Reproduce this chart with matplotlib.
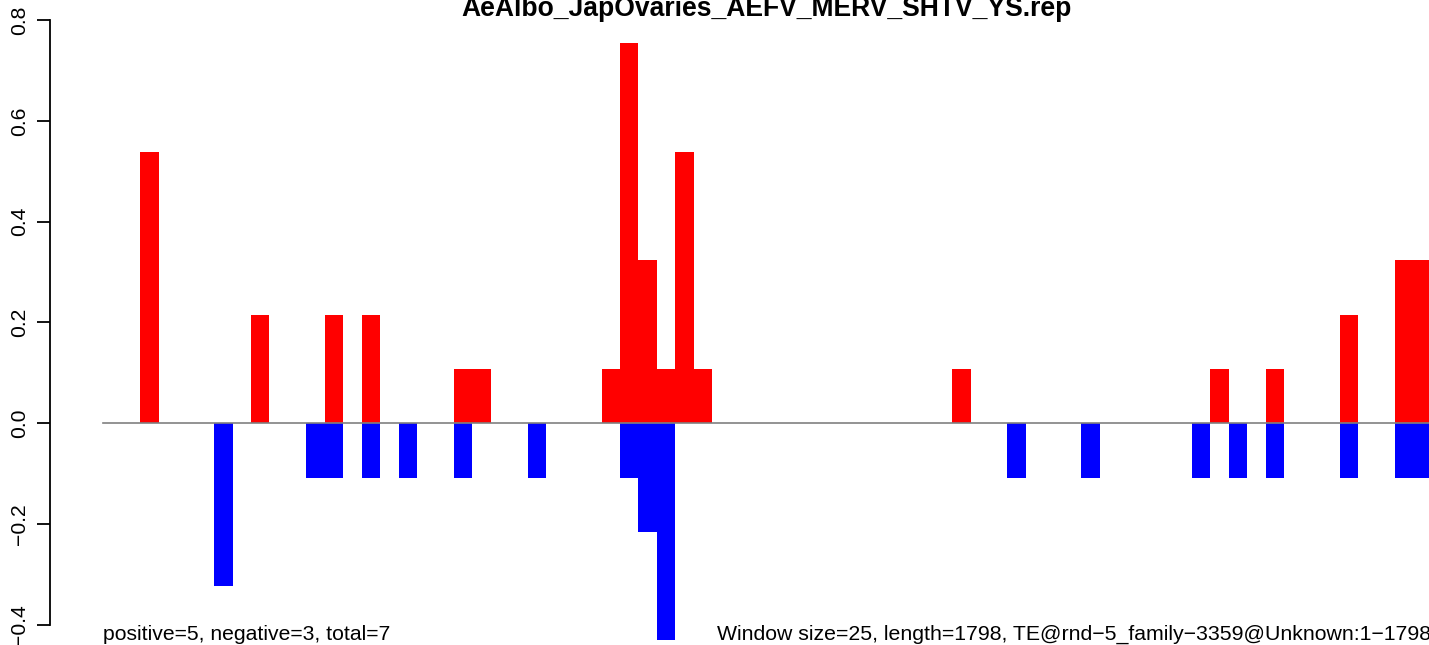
import matplotlib.pyplot as plt

plt.rcParams['font.family'] = ['Liberation Sans', 'DejaVu Sans']

# ventanas de 25 pb sobre un TE de 1798 pb
window = 25
length = 1798
unit = 0.1077

pos_idx = [2, 8, 12, 14, 19, 20, 27, 28, 29, 30, 31, 32, 46, 60, 63, 67, 70, 71]
pos_val = [5, 2, 2, 2, 1, 1, 1, 7, 3, 1, 5, 1, 1, 1, 1, 2, 3, 3]
neg_idx = [6, 11, 12, 14, 16, 19, 23, 28, 29, 30, 49, 53, 59, 61, 63, 67, 70, 71]
neg_val = [3, 1, 1, 1, 1, 1, 1, 1, 2, 4, 1, 1, 1, 1, 1, 1, 1, 1]

titulo = 'AeAlbo_JapOvaries_AEFV_MERV_SHTV_YS.rep'
texto_izq = 'positive=5, negative=3, total=7'
texto_der = 'Window size=25, length=1798, TE@rnd\u22125_family\u22123359@Unknown:1\u22121798'

W, H = 1429, 645
fig = plt.figure(figsize=(W / 100, H / 100), dpi=100)

n = length / window
pxu = 18.45
xmin, xmax = -0.04 * n, n * 1.04
ax = fig.add_axes([50.3 / W, 0, (xmax - xmin) * pxu / W, 1])
ax.set_xlim(xmin, xmax)
ax.set_ylim(-(H - 423.3) / 504, 423.3 / 504)

ax.bar(pos_idx, [v * unit for v in pos_val], width=1, align='edge', color='#ff0000', linewidth=0)
ax.bar(neg_idx, [-v * unit for v in neg_val], width=1, align='edge', color='#0000ff', linewidth=0)
ax.plot([0, n], [0, 0], color='#808080', lw=1.2)

for s in ['top', 'right', 'bottom']:
    ax.spines[s].set_visible(False)
ax.spines['left'].set_bounds(-0.4, 0.8)
ax.spines['left'].set_linewidth(1.3)
ax.set_xticks([])
ax.set_yticks([-0.4, -0.2, 0.0, 0.2, 0.4, 0.6, 0.8])
ax.set_yticklabels(['\u22120.4', '\u22120.2', '0.0', '0.2', '0.4', '0.6', '0.8'],
                   rotation=90, va='center', fontsize=15.2)
ax.tick_params(axis='y', length=9.5, width=1.3, pad=6)

ax.text(0, -0.43, texto_izq, fontsize=15.2, ha='left', va='baseline')
ax.text((717 - 103.3) / pxu, -0.43, texto_der, fontsize=15.3, ha='left', va='baseline')

fig.text(767 / W, 1 - 16.5 / H, titulo, fontsize=19.1, fontweight='bold', ha='center', va='baseline')

fig.savefig('out.png', dpi=100)
